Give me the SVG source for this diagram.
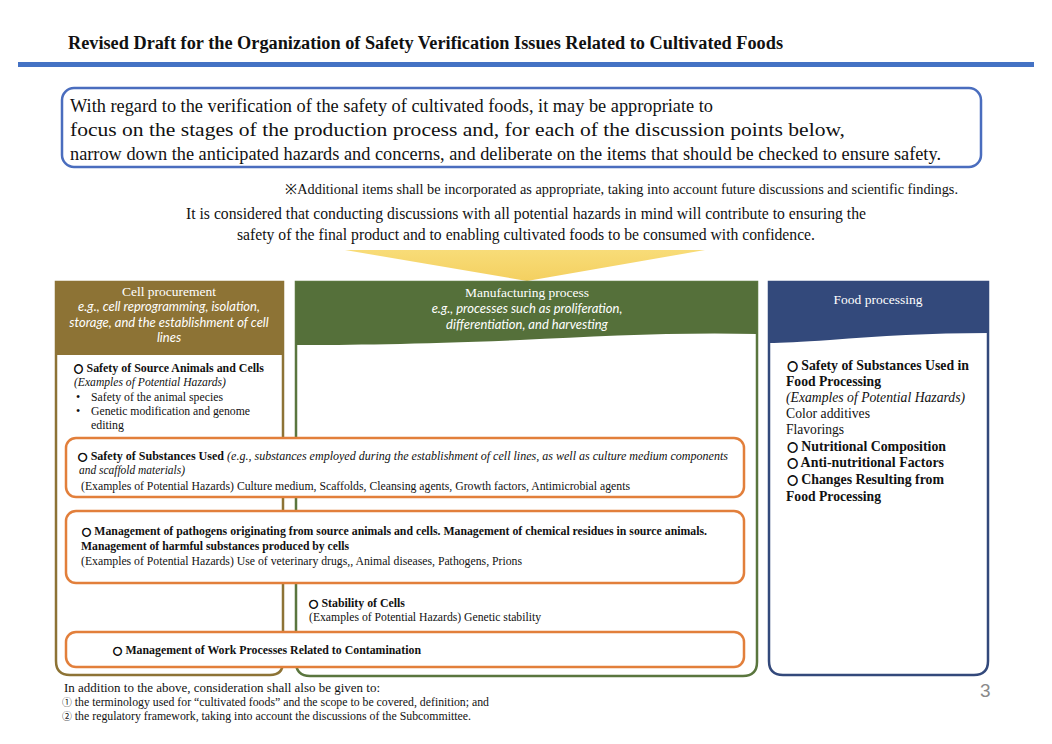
<svg xmlns="http://www.w3.org/2000/svg" width="1052" height="744" viewBox="0 0 1052 744">
<defs>
<style>
.serif{font-family:"Liberation Serif","Times New Roman",serif;fill:#111}
.b{font-weight:bold}
.i{font-style:italic}
.hd{font-family:"Liberation Serif",serif;fill:#fff;font-size:13.5px;text-anchor:middle}
.hdi{font-family:Lato,"Liberation Sans",sans-serif;font-style:italic;fill:#fff;font-size:13px;text-anchor:middle}
.sym{font-family:"DejaVu Sans",sans-serif;font-weight:bold;stroke:#111;stroke-width:0.7}
.num{font-family:"Noto Sans CJK JP","DejaVu Sans",sans-serif;font-size:10px}
.obox{fill:#fff;stroke:#E27F3B;stroke-width:2.5}
</style>
<linearGradient id="yel" x1="0" y1="0" x2="0" y2="1">
<stop offset="0" stop-color="#F8DC78"/>
<stop offset="1" stop-color="#F4D060"/>
</linearGradient>
</defs>
<rect width="1052" height="744" fill="#fff"/>

<g id="title">
<text class="serif b" x="68" y="49" font-size="18.5" textLength="715" lengthAdjust="spacingAndGlyphs">Revised Draft for the Organization of Safety Verification Issues Related to Cultivated Foods</text>
<rect x="18" y="62" width="1016" height="5" fill="#4472C4"/>
</g>

<g id="intro">
<rect x="62" y="88" width="919" height="79" rx="12" fill="#fff" stroke="#4A6DBE" stroke-width="2.5"/>
<text class="serif" x="70" y="112" font-size="19.5" textLength="643" lengthAdjust="spacingAndGlyphs">With regard to the verification of the safety of cultivated foods, it may be appropriate to</text>
<text class="serif" x="70" y="136" font-size="19.5" textLength="775" lengthAdjust="spacingAndGlyphs">focus on the stages of the production process and, for each of the discussion points below,</text>
<text class="serif" x="70" y="160" font-size="19.5" textLength="871" lengthAdjust="spacingAndGlyphs">narrow down the anticipated hazards and concerns, and deliberate on the items that should be checked to ensure safety.</text>
</g>

<g id="note">
<text class="serif" x="285" y="194" font-size="14" textLength="673" lengthAdjust="spacingAndGlyphs">※Additional items shall be incorporated as appropriate, taking into account future discussions and scientific findings.</text>
<text class="serif" x="186" y="219" font-size="16" textLength="680" lengthAdjust="spacingAndGlyphs">It is considered that conducting discussions with all potential hazards in mind will contribute to ensuring the</text>
<text class="serif" x="237" y="240" font-size="16" textLength="578" lengthAdjust="spacingAndGlyphs">safety of the final product and to enabling cultivated foods to be consumed with confidence.</text>
</g>

<g id="arrow">
<polygon points="345,250 705,250 527,281" fill="url(#yel)"/>
</g>

<g id="col-cell">
<path d="M56,282 H283 V662 Q283,675 270,675 H70 Q56,675 56,661 Z" fill="#fff" stroke="#8D7335" stroke-width="2.5"/>
<rect x="56" y="282" width="227" height="73" fill="#8D7335"/>
<text class="hd" x="169" y="296">Cell procurement</text>
<text class="hdi" x="169" y="311">e.g., cell reprogramming, isolation,</text>
<text class="hdi" x="169" y="327">storage, and the establishment of cell</text>
<text class="hdi" x="169" y="342">lines</text>
<text class="serif b" x="74" y="372" font-size="12.5" textLength="190" lengthAdjust="spacingAndGlyphs"><tspan class="sym" font-size="11.5">○</tspan> Safety of Source Animals and Cells</text>
<text class="serif i" x="74" y="386" font-size="12.5" textLength="152" lengthAdjust="spacingAndGlyphs">(Examples of Potential Hazards)</text>
<text class="serif" x="76" y="401" font-size="12">•</text>
<text class="serif" x="91" y="401" font-size="12.5" textLength="132" lengthAdjust="spacingAndGlyphs">Safety of the animal species</text>
<text class="serif" x="76" y="415" font-size="12">•</text>
<text class="serif" x="91" y="415" font-size="12.5" textLength="159" lengthAdjust="spacingAndGlyphs">Genetic modification and genome</text>
<text class="serif" x="91" y="429" font-size="12.5" textLength="33" lengthAdjust="spacingAndGlyphs">editing</text>
</g>

<g id="col-manufacturing">
<path d="M296,282 H757 V662 Q757,676 743,676 H310 Q296,676 296,662 Z" fill="#fff" stroke="#5A763E" stroke-width="2.5"/>
<path d="M296,282 H757 V334 C680,332 600,336 520,340 C420,344 350,345 296,345 Z" fill="#55703A"/>
<text class="hd" x="527" y="297">Manufacturing process</text>
<text class="hdi" x="527" y="313">e.g., processes such as proliferation,</text>
<text class="hdi" x="527" y="329">differentiation, and harvesting</text>
<text class="serif b" x="309" y="607" font-size="12" textLength="96" lengthAdjust="spacingAndGlyphs"><tspan class="sym" font-size="11">○</tspan> Stability of Cells</text>
<text class="serif" x="309" y="621" font-size="12" textLength="232" lengthAdjust="spacingAndGlyphs">(Examples of Potential Hazards) Genetic stability</text>
</g>

<g id="col-food">
<path d="M769,282 H988 V661 Q988,675 974,675 H783 Q769,675 769,661 Z" fill="#fff" stroke="#33497B" stroke-width="2.5"/>
<path d="M769,282 H988 V333 C930,333 880,336 830,340 C800,342 782,343 769,343 Z" fill="#33497B"/>
<text class="hd" x="878" y="304">Food processing</text>
<text class="serif b" x="787" y="370" font-size="14.5" textLength="182" lengthAdjust="spacingAndGlyphs"><tspan class="sym" font-size="13">○</tspan> Safety of Substances Used in</text>
<text class="serif b" x="786" y="386" font-size="14.5" textLength="95" lengthAdjust="spacingAndGlyphs">Food Processing</text>
<text class="serif i" x="786" y="402" font-size="14.5" textLength="179" lengthAdjust="spacingAndGlyphs">(Examples of Potential Hazards)</text>
<text class="serif" x="786" y="418" font-size="14.5" textLength="84" lengthAdjust="spacingAndGlyphs">Color additives</text>
<text class="serif" x="786" y="434" font-size="14.5" textLength="58" lengthAdjust="spacingAndGlyphs">Flavorings</text>
<text class="serif b" x="787" y="451" font-size="14.5" textLength="159" lengthAdjust="spacingAndGlyphs"><tspan class="sym" font-size="13">○</tspan> Nutritional Composition</text>
<text class="serif b" x="787" y="467" font-size="14.5" textLength="157" lengthAdjust="spacingAndGlyphs"><tspan class="sym" font-size="13">○</tspan> Anti-nutritional Factors</text>
<text class="serif b" x="787" y="484" font-size="14.5" textLength="157" lengthAdjust="spacingAndGlyphs"><tspan class="sym" font-size="13">○</tspan> Changes Resulting from</text>
<text class="serif b" x="786" y="501" font-size="14.5" textLength="95" lengthAdjust="spacingAndGlyphs">Food Processing</text>
</g>

<g id="box-substances">
<rect class="obox" x="66" y="438" width="678" height="59" rx="10"/>
<text class="serif" x="78" y="460" font-size="12" textLength="650" lengthAdjust="spacingAndGlyphs"><tspan class="sym" font-size="11">○</tspan><tspan class="b"> Safety of Substances Used </tspan><tspan class="i">(e.g., substances employed during the establishment of cell lines, as well as culture medium components</tspan></text>
<text class="serif i" x="79" y="474" font-size="12" textLength="106" lengthAdjust="spacingAndGlyphs">and scaffold materials)</text>
<text class="serif" x="81" y="490" font-size="12" textLength="549" lengthAdjust="spacingAndGlyphs">(Examples of Potential Hazards) Culture medium, Scaffolds, Cleansing agents, Growth factors, Antimicrobial agents</text>
</g>

<g id="box-pathogens">
<rect class="obox" x="66" y="511" width="678" height="72" rx="10"/>
<text class="serif b" x="82" y="535" font-size="12" textLength="625" lengthAdjust="spacingAndGlyphs"><tspan class="sym" font-size="11">○</tspan> Management of pathogens originating from source animals and cells. Management of chemical residues in source animals.</text>
<text class="serif b" x="81" y="550" font-size="12" textLength="268" lengthAdjust="spacingAndGlyphs">Management of harmful substances produced by cells</text>
<text class="serif" x="81" y="565" font-size="12" textLength="441" lengthAdjust="spacingAndGlyphs">(Examples of Potential Hazards) Use of veterinary drugs,, Animal diseases, Pathogens, Prions</text>
</g>

<g id="box-contamination">
<rect class="obox" x="66" y="632" width="678" height="35" rx="10"/>
<text class="serif b" x="113" y="654" font-size="12" textLength="308" lengthAdjust="spacingAndGlyphs"><tspan class="sym" font-size="11">○</tspan> Management of Work Processes Related to Contamination</text>
</g>

<g id="footer">
<text class="serif" x="64" y="692" font-size="12" textLength="316" lengthAdjust="spacingAndGlyphs">In addition to the above, consideration shall also be given to:</text>
<text class="serif" x="62" y="706" font-size="12" textLength="427" lengthAdjust="spacingAndGlyphs"><tspan class="num">①</tspan> the terminology used for “cultivated foods” and the scope to be covered, definition; and</text>
<text class="serif" x="62" y="720" font-size="12" textLength="409" lengthAdjust="spacingAndGlyphs"><tspan class="num">②</tspan> the regulatory framework, taking into account the discussions of the Subcommittee.</text>
<text x="980" y="697" font-family="Liberation Sans, sans-serif" font-size="19" fill="#8a8a8a">3</text>
</g>

<g id="connectors"></g>
</svg>
